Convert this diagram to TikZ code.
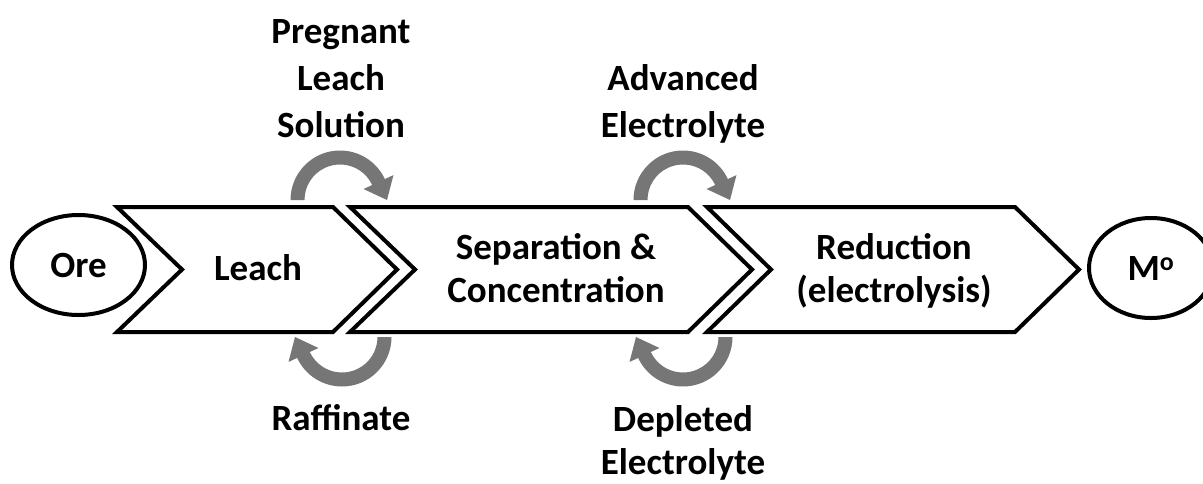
\documentclass[tikz,border=0pt]{standalone}
\usepackage{fontspec}
\setmainfont{Carlito}
\usetikzlibrary{calc,shapes.geometric}
\definecolor{arrowgray}{RGB}{118,118,118}
\begin{document}
\begin{tikzpicture}[x=1pt,y=-1pt,
  lbl/.style={font=\fontsize{37}{44}\selectfont\bfseries, anchor=base, inner sep=0pt},
  stage/.style={draw=black, line width=4pt, line join=miter, fill=white},
  terminal/.style={ellipse, draw=black, line width=4pt, fill=white, inner sep=0pt,
    font=\fontsize{37}{44}\selectfont\bfseries},
  loopfill/.style={fill=arrowgray}]
\useasboundingbox (0,0) rectangle (1203,483);
\clip (0,0) rectangle (1203,483);

% stages (chevrons)
\draw[stage] (117,207) -- (333,207) -- (397,269.5) -- (333,332) -- (117,332) -- (182,269.5) -- cycle;
\draw[stage] (350,207) -- (688,207) -- (752,269.5) -- (688,332) -- (350,332) -- (415,269.5) -- cycle;
\draw[stage] (707,207) -- (1015,207) -- (1079,269.5) -- (1015,332) -- (707,332) -- (771,269.5) -- cycle;

% terminals
\node[terminal, minimum width=133, minimum height=100] (ore) at (78.5,265) {Ore};
\node[terminal, minimum width=124, minimum height=100] (metal) at (1151,268) {M\textsuperscript{o}};

% loop centres
\coordinate (c1) at (340,200);
\coordinate (d1) at (342,337);
\coordinate (c2) at (683,200);
\coordinate (d2) at (683,337);

% top loops (clockwise, head pointing down)
\foreach \c in {c1,c2}{
\fill[loopfill] ($(\c)+(180:49.5)$) arc[start angle=180, end angle=335, radius=49.5]
  -- ($(\c)+(335:59)$) -- ($(\c)+(0:47)$) -- ($(\c)+(335:26)$)
  -- ($(\c)+(335:35.5)$) arc[start angle=335, end angle=180, radius=35.5] -- cycle;
}
% bottom loops (clockwise, head pointing up)
\foreach \d in {d1,d2}{
\fill[loopfill] ($(\d)+(0:49.5)$) arc[start angle=0, end angle=155, radius=49.5]
  -- ($(\d)+(155:59)$) -- ($(\d)+(180:47)$) -- ($(\d)+(155:26)$)
  -- ($(\d)+(155:35.5)$) arc[start angle=155, end angle=0, radius=35.5] -- cycle;
}

% stage texts
\node[lbl] (leach) at (258,280) {Leach};
\node[lbl] (sep1) at (556,259) {Separation \&};
\node[lbl] (sep2) at (556,302) {Concentration};
\node[lbl] (red1) at (894,259) {Reduction};
\node[lbl] (red2) at (894,302) {(electrolysis)};

% stream labels
\node[lbl] (pls1) at (341,43) {Pregnant};
\node[lbl] (pls2) at (341,90) {Leach};
\node[lbl] (pls3) at (341,137) {Solution};
\node[lbl] (adv1) at (683,90) {Advanced};
\node[lbl] (adv2) at (683,137) {Electrolyte};
\node[lbl] (raff) at (341,430) {Raffinate};
\node[lbl] (dep1) at (683,431) {Depleted};
\node[lbl] (dep2) at (683,474) {Electrolyte};
\end{tikzpicture}
\end{document}
